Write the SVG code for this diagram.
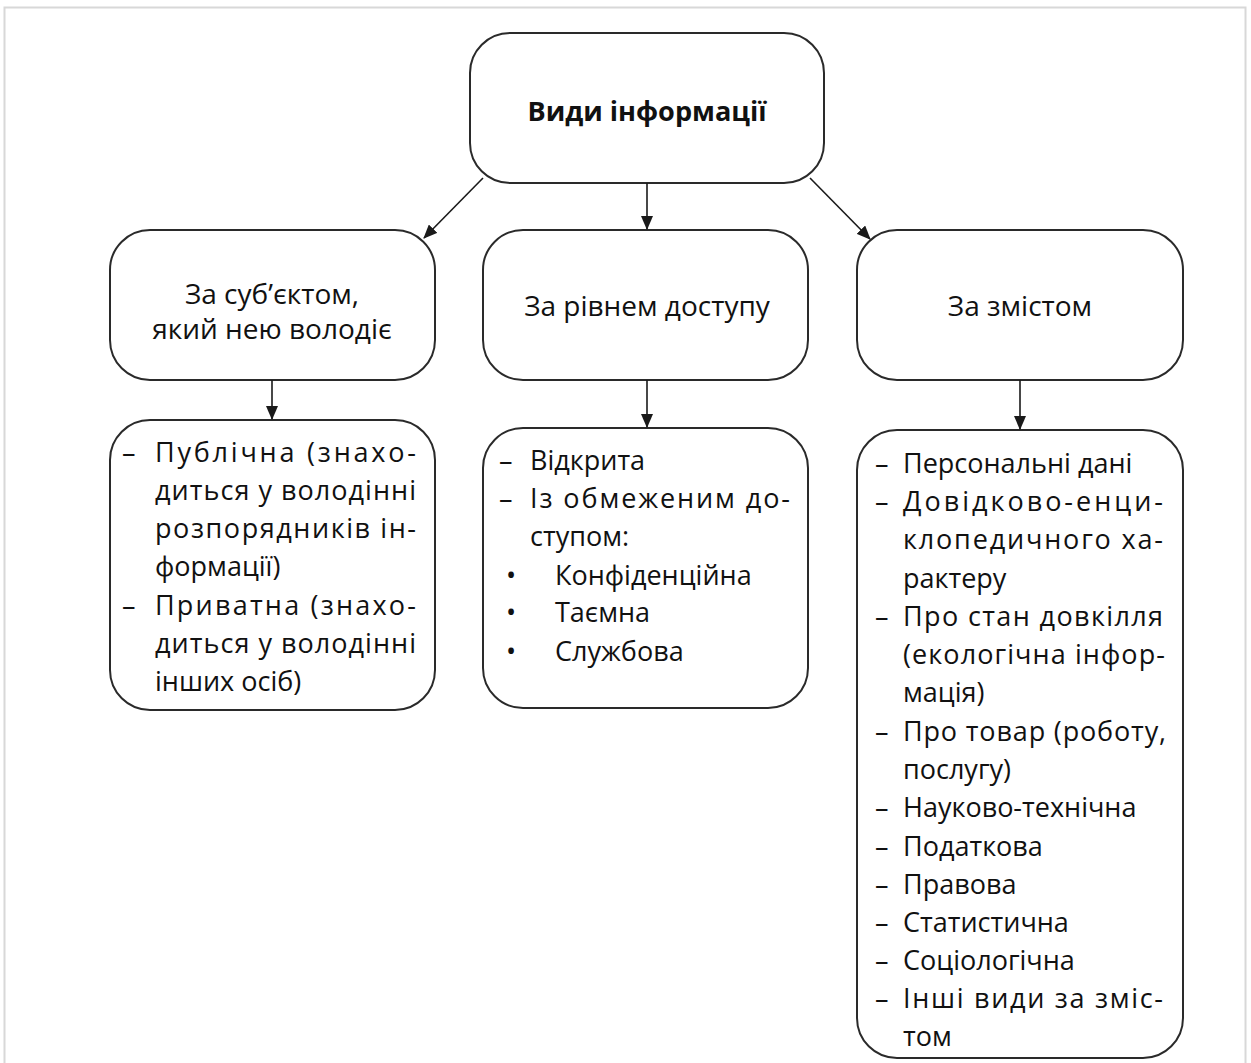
<svg xmlns="http://www.w3.org/2000/svg" width="1251" height="1063" viewBox="0 0 1251 1063">
<defs>
<marker id="ah" viewBox="0 0 14 12" refX="13" refY="6" markerWidth="14" markerHeight="12" markerUnits="userSpaceOnUse" orient="auto">
<path d="M0,0 L14,6 L0,12 Z" fill="#1a1a1a"/>
</marker>
<style>
.box{fill:#fff;stroke:#2a2a2a;stroke-width:2}
.t{font-family:"Open Sans","Noto Sans",sans-serif;font-size:27px;fill:#111}
.h{font-size:28px}
.c{text-anchor:middle}
.b{font-weight:bold}
.ln{stroke:#1a1a1a;stroke-width:1.6;fill:none}
</style>
</defs>
<rect x="0" y="0" width="1251" height="1063" fill="#fff"/>
<rect x="4.5" y="7.5" width="1241" height="1070" fill="none" stroke="#d8d8d8" stroke-width="2"/>

<g id="root">
<rect class="box" x="470" y="33" width="354" height="150" rx="40"/>
<text class="t c b" x="647" y="121" textLength="239" lengthAdjust="spacingAndGlyphs">Види інформації</text>
</g>

<g id="subject">
<rect class="box" x="110" y="230" width="325" height="150" rx="40"/>
<text class="t h c" x="272" y="304">За суб’єктом,</text>
<text class="t h c" x="272" y="339">який нею володіє</text>
</g>

<g id="access">
<rect class="box" x="483" y="230" width="325" height="150" rx="40"/>
<text class="t h c" x="647" y="316">За рівнем доступу</text>
</g>

<g id="content">
<rect class="box" x="857" y="230" width="326" height="150" rx="40"/>
<text class="t h c" x="1020" y="316">За змістом</text>
</g>

<g id="subject-list">
<rect class="box" x="110" y="420" width="325" height="290" rx="40"/>
<g class="t">
<text x="122" y="462">–</text><text x="155" y="462" textLength="261" lengthAdjust="spacing">Публічна (знахо-</text>
<text x="155" y="500" textLength="261" lengthAdjust="spacing">диться у володінні</text>
<text x="155" y="538" textLength="261" lengthAdjust="spacing">розпорядників ін-</text>
<text x="155" y="576">формації)</text>
<text x="122" y="615">–</text><text x="155" y="615" textLength="261" lengthAdjust="spacing">Приватна (знахо-</text>
<text x="155" y="653" textLength="261" lengthAdjust="spacing">диться у володінні</text>
<text x="155" y="691">інших осіб)</text>
</g>
</g>

<g id="access-list">
<rect class="box" x="483" y="428" width="325" height="280" rx="40"/>
<g class="t">
<text x="499" y="470">–</text><text x="530" y="470">Відкрита</text>
<text x="499" y="508">–</text><text x="530" y="508" textLength="260" lengthAdjust="spacing">Із обмеженим до-</text>
<text x="530" y="546">ступом:</text>
<text x="506" y="585">•</text><text x="555" y="585">Конфіденційна</text>
<text x="506" y="622">•</text><text x="555" y="622">Таємна</text>
<text x="506" y="661">•</text><text x="555" y="661">Службова</text>
</g>
</g>

<g id="content-list">
<rect class="box" x="857" y="430" width="326" height="628" rx="40"/>
<g class="t">
<text x="875" y="473">–</text><text x="903" y="473">Персональні дані</text>
<text x="875" y="511">–</text><text x="903" y="511" textLength="260" lengthAdjust="spacing">Довідково-енци-</text>
<text x="903" y="549" textLength="260" lengthAdjust="spacing">клопедичного ха-</text>
<text x="903" y="588">рактеру</text>
<text x="875" y="626">–</text><text x="903" y="626" textLength="260" lengthAdjust="spacing">Про стан довкілля</text>
<text x="903" y="664" textLength="262" lengthAdjust="spacing">(екологічна інфор-</text>
<text x="903" y="702">мація)</text>
<text x="875" y="741">–</text><text x="903" y="741" textLength="263" lengthAdjust="spacing">Про товар (роботу,</text>
<text x="903" y="779">послугу)</text>
<text x="875" y="817">–</text><text x="903" y="817">Науково-технічна</text>
<text x="875" y="856">–</text><text x="903" y="856">Податкова</text>
<text x="875" y="894">–</text><text x="903" y="894">Правова</text>
<text x="875" y="932">–</text><text x="903" y="932">Статистична</text>
<text x="875" y="970">–</text><text x="903" y="970">Соціологічна</text>
<text x="875" y="1008">–</text><text x="903" y="1008" textLength="260" lengthAdjust="spacing">Інші види за зміс-</text>
<text x="903" y="1046">том</text>
</g>
</g>

<g id="connectors">
<line class="ln" x1="483" y1="178" x2="424" y2="238" marker-end="url(#ah)"/>
<line class="ln" x1="647" y1="183" x2="647" y2="229" marker-end="url(#ah)"/>
<line class="ln" x1="810" y1="178" x2="870" y2="239" marker-end="url(#ah)"/>
<line class="ln" x1="272" y1="380" x2="272" y2="419" marker-end="url(#ah)"/>
<line class="ln" x1="647" y1="380" x2="647" y2="427" marker-end="url(#ah)"/>
<line class="ln" x1="1020" y1="380" x2="1020" y2="429" marker-end="url(#ah)"/>
</g>
</svg>
